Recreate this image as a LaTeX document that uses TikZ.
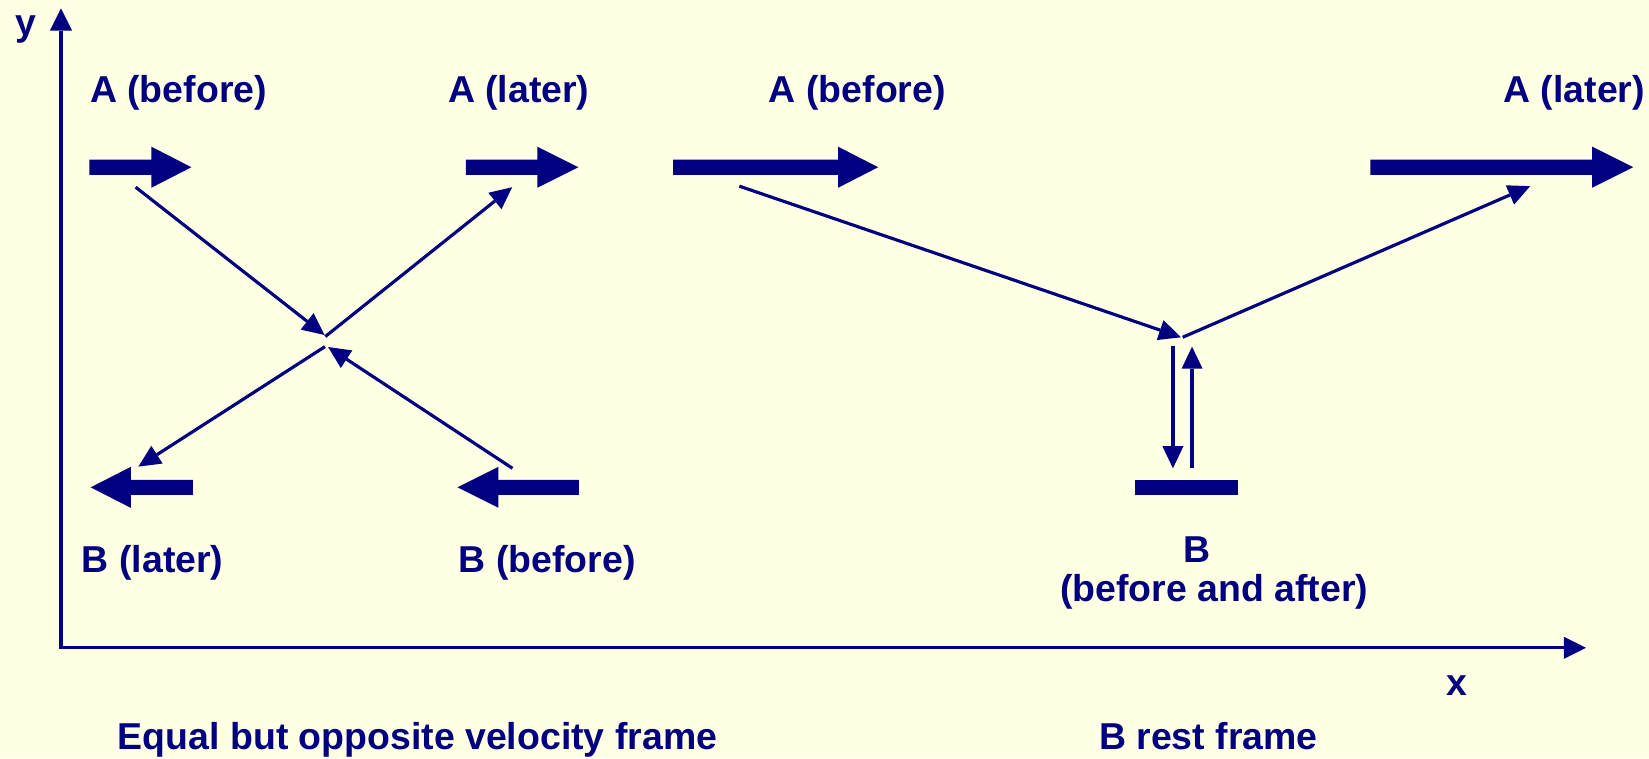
\documentclass[tikz,border=0pt]{standalone}
\usepackage{fontspec}
\setmainfont{Liberation Sans}
\usetikzlibrary{arrows.meta}
\definecolor{mynavy}{RGB}{0,0,128}
\definecolor{bgyellow}{RGB}{255,255,228}
% thick velocity arrow: start x, head-back x, tip x, centre y
\newcommand{\fatarrow}[4]{\fill[mynavy] (#1,#4-7.2) -- (#2,#4-7.2) -- (#2,#4-19.5) -- (#3,#4) -- (#2,#4+19.5) -- (#2,#4+7.2) -- (#1,#4+7.2) -- cycle;}
\begin{document}
\begin{tikzpicture}[x=1pt,y=-1pt,
  lbl/.style={inner sep=0pt, anchor=base west, text=mynavy, font=\bfseries\fontsize{35.6}{40}\selectfont},
  thinarrow/.style={draw=mynavy, line width=3pt, -{Triangle[length=21pt,width=20pt,line width=0pt]}},
  axisline/.style={draw=mynavy, line width=3pt, line join=miter, {Triangle[length=21pt,width=21pt,line width=0pt]}-{Triangle[length=21pt,width=21pt,line width=0pt]}}]
\fill[bgyellow] (0,0) rectangle (1568,721);
\useasboundingbox (0,0) rectangle (1568,721);

% axes
\coordinate (O) at (58,616);
\coordinate (ytip) at (58,8);
\coordinate (xtip) at (1508,616);
\draw[axisline] (ytip) -- (O) -- (xtip);
\node[lbl] (ylab) at (14.5,34) {y};
\node[lbl] (xlab) at (1375,661) {x};

% labels
\node[lbl] (lAbefore) at (85.5,97) {A (before)};
\node[lbl] (lAlater) at (425.8,97) {A (later)};
\node[lbl] (rAbefore) at (731,97) {A (before)};
\node[lbl] (rAlater) at (1429.4,97) {A (later)};
\node[lbl] (lBlater) at (77.7,544) {B (later)};
\node[lbl] (lBbefore) at (436,544) {B (before)};
\node[lbl] (rB) at (1125,535) {B};
\node[lbl] (rBba) at (1008,571.5) {(before and after)};
\node[lbl] (cap1) at (112,713) {Equal but opposite velocity frame};
\node[lbl] (cap2) at (1045,713) {B rest frame};

% thick velocity arrows
\fatarrow{85}{144}{182}{159}
\fatarrow{443}{511}{550}{159}
\fatarrow{640}{797}{835}{159}
\fatarrow{1303}{1514}{1553}{159}
\fatarrow{183.4}{124.4}{86.2}{463.4}
\fatarrow{550.5}{474}{435}{463.4}
\fill[mynavy] (1079,456.3) rectangle (1177,470.7);

% thin trajectory arrows
\coordinate (a1s) at (129,178);    \coordinate (a1e) at (308.6,318.5);
\coordinate (a2s) at (309.3,320);  \coordinate (a2e) at (487,178);
\coordinate (a3s) at (309,329.6);  \coordinate (a3e) at (131.6,443.7);
\coordinate (a4s) at (487.3,445.3);\coordinate (a4e) at (312,330);
\coordinate (a5s) at (703,177);    \coordinate (a5e) at (1123,320.7);
\coordinate (a6s) at (1124.6,320.7);\coordinate (a6e) at (1455,177);
\coordinate (a7s) at (1115.3,329); \coordinate (a7e) at (1115.3,445.3);
\coordinate (a8s) at (1133.5,445.3);\coordinate (a8e) at (1133.5,329.6);
\draw[thinarrow] (a1s) -- (a1e);
\draw[thinarrow] (a2s) -- (a2e);
\draw[thinarrow] (a3s) -- (a3e);
\draw[thinarrow] (a4s) -- (a4e);
\draw[thinarrow] (a5s) -- (a5e);
\draw[thinarrow] (a6s) -- (a6e);
\draw[thinarrow] (a7s) -- (a7e);
\draw[thinarrow] (a8s) -- (a8e);
\end{tikzpicture}
\end{document}
